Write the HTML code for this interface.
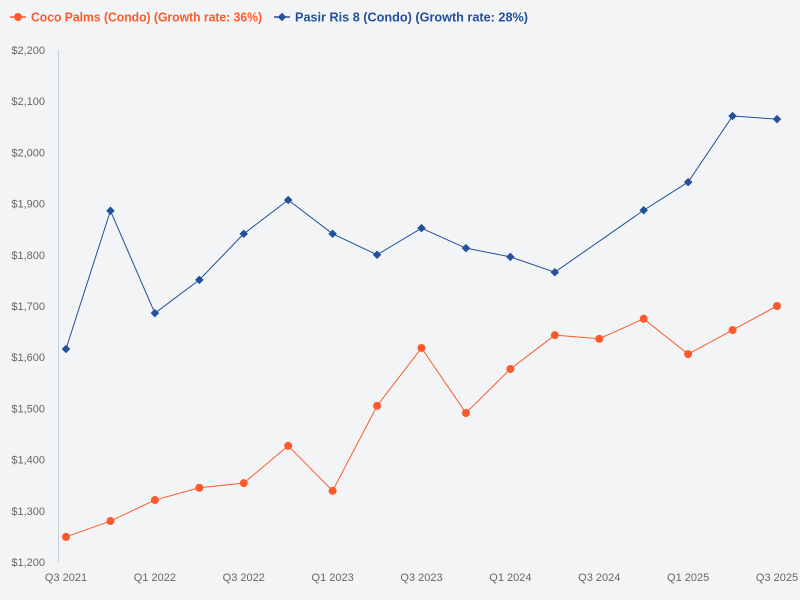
<!DOCTYPE html>
<html><head><meta charset="utf-8"><style>
body{margin:0;background:#f2f4f6;}
svg{display:block;font-family:"Liberation Sans",sans-serif;}
</style></head><body>
<svg id="c" width="800" height="600">
<rect width="800" height="600" fill="#f2f4f6"/>
<g>
 <g>
  <line x1="10" y1="17" x2="26" y2="17" stroke="#fc5a2a" stroke-width="1.5"/>
  <circle cx="18" cy="17" r="4" fill="#fc5a2a"/>
  <text x="31" y="21.5" font-size="12.5" font-weight="bold" fill="#fc5a2a" textLength="231" lengthAdjust="spacingAndGlyphs">Coco Palms (Condo) (Growth rate: 36%)</text>
 </g>
 <g>
  <line x1="274" y1="17" x2="290" y2="17" stroke="#22509a" stroke-width="1.5"/>
  <rect x="279" y="14" width="6" height="6" fill="#22509a" transform="rotate(45 282 17)"/>
  <text x="295" y="21.5" font-size="12.5" font-weight="bold" fill="#22509a" textLength="233" lengthAdjust="spacingAndGlyphs">Pasir Ris 8 (Condo) (Growth rate: 28%)</text>
 </g>
</g>
<line x1="58.5" y1="50" x2="58.5" y2="562" stroke="#c8d0dc"/>
<g id="yt"></g>
<g id="xt"></g>
<g id="plot"></g>
</svg>
<script>
const categories=["Q3 2021","Q4 2021","Q1 2022","Q2 2022","Q3 2022","Q4 2022","Q1 2023","Q2 2023","Q3 2023","Q4 2023","Q1 2024","Q2 2024","Q3 2024","Q4 2024","Q1 2025","Q2 2025","Q3 2025"];
const cocoPalms=[1249,1280,1321,1345,1354,1427,1339,1505,1618,1491,1577,1643,1636,1675,1606,1653,1700];
const pasirRis8=[1616,1886,1686,1751,1841,1907,1841,1800,1852,1813,1796,1766,null,1887,1942,2071,2065];
const yTicks=[1200,1300,1400,1500,1600,1700,1800,1900,2000,2100,2200];
const xTickLabels=["Q3 2021","Q1 2022","Q3 2022","Q1 2023","Q3 2023","Q1 2024","Q3 2024","Q1 2025","Q3 2025"];
const NS="http://www.w3.org/2000/svg";
const x=i=>66+i*(777-66)/(categories.length-1);
const y=v=>562-(v-1200)*512/1000;
function mk(t,a,p){const e=document.createElementNS(NS,t);for(const k in a)e.setAttribute(k,a[k]);p.appendChild(e);return e;}
const yt=document.getElementById('yt'),xt=document.getElementById('xt'),plot=document.getElementById('plot');
yTicks.forEach(v=>{const t=mk('text',{x:45,y:y(v)+4,'font-size':11,fill:'#666','text-anchor':'end'},yt);t.textContent='$'+v.toLocaleString('en-US');

});
xTickLabels.forEach(l=>{const i=categories.indexOf(l);const t=mk('text',{x:x(i),y:581,'font-size':11,fill:'#666','text-anchor':'middle'},xt);t.textContent=l;

});
function series(data,color,kind,name){
 const pts=data.map((v,i)=>v==null?null:[x(i),y(v)]).filter(p=>p);
 const pl=mk('polyline',{points:pts.map(p=>p.join(',')).join(' '),fill:'none',stroke:color,'stroke-width':1},plot);
 
 
 pts.forEach(p=>{let m;
  if(kind==='circle')m=mk('circle',{cx:p[0],cy:p[1],r:4,fill:color},plot);
  else m=mk('rect',{x:p[0]-3,y:p[1]-3,width:6,height:6,fill:color,transform:`rotate(45 ${p[0]} ${p[1]})`},plot);
  
  });
}
series(pasirRis8,'#22509a','diamond','pasir-ris-8');
series(cocoPalms,'#fc5a2a','circle','coco-palms');
</script>
</body></html>
